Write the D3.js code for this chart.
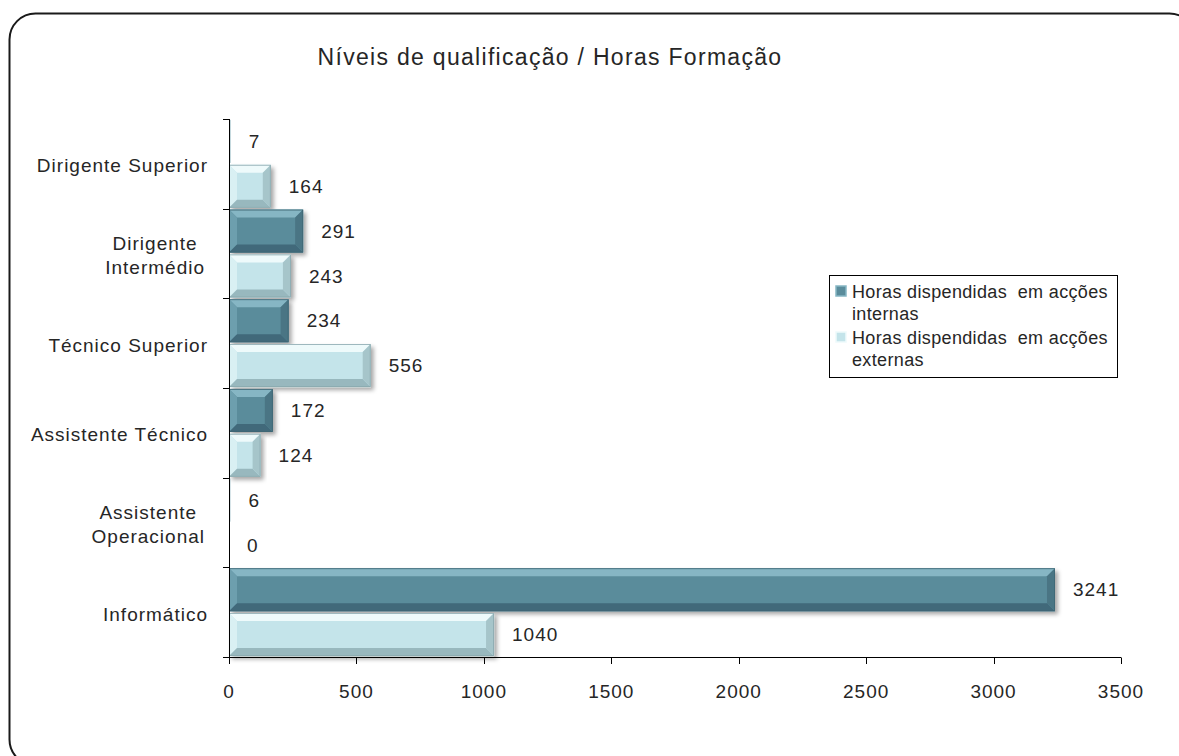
<!DOCTYPE html>
<html>
<head>
<meta charset="utf-8">
<script src="https://cdn.jsdelivr.net/npm/d3@7"></script>
<style>
  body { margin: 0; background: #fff; }
  svg text { font-family: "Liberation Sans", Arial, sans-serif; fill: #262626; }
</style>
</head>
<body>
<svg id="chart" width="1179" height="756"></svg>
<script>
// categories, top to bottom
var categories = ["Dirigente Superior", "Dirigente Intermédio", "Técnico Superior",
                  "Assistente Técnico", "Assistente Operacional", "Informático"];
// how each category label is broken into lines
var catLines = [["Dirigente Superior"], ["Dirigente", "Intermédio"], ["Técnico Superior"],
                ["Assistente Técnico"], ["Assistente", "Operacional"], ["Informático"]];
var internas = [7, 291, 234, 172, 6, 3241];
var externas = [164, 243, 556, 124, 0, 1040];
var legendLines = [["Horas dispendidas  em acções", "internas"], ["Horas dispendidas  em acções", "externas"]];
var xTicks = [0, 500, 1000, 1500, 2000, 2500, 3000, 3500];
var title = "Níveis de qualificação / Horas Formação";

var svg = d3.select("#chart");

// outer rounded frame (partly off the page, as in the original)
svg.append("rect")
    .attr("x", 9.5).attr("y", 13.5)
    .attr("width", 1186).attr("height", 752)
    .attr("rx", 26).attr("ry", 26)
    .attr("fill", "#fff").attr("stroke", "#1a1a1a").attr("stroke-width", 2);

var defs = svg.append("defs");
var f = defs.append("filter").attr("id", "shadow")
    .attr("x", "-10%").attr("y", "-20%").attr("width", "130%").attr("height", "160%");
f.append("feDropShadow").attr("dx", 3).attr("dy", 3).attr("stdDeviation", 2)
    .attr("flood-color", "#000").attr("flood-opacity", 0.35);

svg.append("text")
    .attr("x", 550).attr("y", 65)
    .attr("text-anchor", "middle")
    .style("font-size", "23px").style("letter-spacing", "1.3px")
    .text(title);

var x = d3.scaleLinear().domain([0, 3500]).range([229, 1121]);
var y = d3.scaleBand().domain(categories).range([119, 657]);
var sub = d3.scaleBand().domain([0, 1]).range([0, y.bandwidth()])
    .paddingInner(0.04).paddingOuter(0.02);

var palettes = [
  { base: "#5a8c9b", top: "#86b6c4", left: "#6d9fae", bottom: "#41697a", right: "#4a7584", edge: "#3f6674" },
  { base: "#c4e4ea", top: "#eefafb", left: "#d9f0f3", bottom: "#98b8be", right: "#a6c5ca", edge: "#8aa9ae" }
];

var rows = [];
categories.forEach(function (c, i) {
  rows.push({ cat: c, s: 0, v: internas[i] });
  rows.push({ cat: c, s: 1, v: externas[i] });
});

var bars = svg.append("g");
rows.forEach(function (d) {
  var x0 = x(0), w = x(d.v) - x(0);
  var y0 = y(d.cat) + sub(d.s), h = sub.bandwidth();
  var p = palettes[d.s];
  var g = bars.append("g");
  if (w > 3) {
    g.append("rect").attr("x", x0).attr("y", y0).attr("width", w).attr("height", h)
        .attr("fill", p.base).attr("filter", "url(#shadow)");
    var b = Math.min(8, w / 2, h / 2);
    var polys = [
      [[x0, y0], [x0 + w, y0], [x0 + w - b, y0 + b], [x0 + b, y0 + b], p.top],
      [[x0, y0], [x0 + b, y0 + b], [x0 + b, y0 + h - b], [x0, y0 + h], p.left],
      [[x0, y0 + h], [x0 + b, y0 + h - b], [x0 + w - b, y0 + h - b], [x0 + w, y0 + h], p.bottom],
      [[x0 + w, y0], [x0 + w, y0 + h], [x0 + w - b, y0 + h - b], [x0 + w - b, y0 + b], p.right]
    ];
    polys.forEach(function (q) {
      g.append("polygon")
          .attr("points", q.slice(0, 4).map(function (pt) { return pt.join(","); }).join(" "))
          .attr("fill", q[4]);
    });
    g.append("rect").attr("x", x0 + 0.5).attr("y", y0 + 0.5)
        .attr("width", Math.max(0, w - 1)).attr("height", h - 1)
        .attr("fill", "none").attr("stroke", p.edge).attr("stroke-width", 0.8);
  } else if (w > 0.5) {
    // very small values: a sliver hidden mostly behind the axis
    g.append("rect").attr("x", x0).attr("y", y0).attr("width", w).attr("height", h)
        .attr("fill", p.left).attr("opacity", 0.5);
  }
  svg.append("text")
      .attr("x", x(d.v) + 18)
      .attr("y", y0 + h / 2)
      .attr("dy", "0.35em")
      .style("font-size", "19px").style("letter-spacing", "1px")
      .text(d.v);
});

// y axis
var yAxis = svg.append("g");
yAxis.append("line").attr("x1", 229.5).attr("x2", 229.5).attr("y1", 119).attr("y2", 657)
    .attr("stroke", "#000");
var bounds = categories.map(function (c) { return y(c); }).concat([657]);
bounds.forEach(function (b) {
  yAxis.append("line").attr("x1", 223).attr("x2", 229.5)
      .attr("y1", Math.round(b) + 0.5).attr("y2", Math.round(b) + 0.5).attr("stroke", "#000");
});

// category labels: block right aligned, lines centred inside it
var lh = 24;
categories.forEach(function (c, i) {
  var lines = catLines[i];
  var t = svg.append("text").attr("text-anchor", "middle")
      .style("font-size", "19px").style("letter-spacing", "1px");
  var cy = y(c) + y.bandwidth() / 2 + 2 - (lines.length - 1) * lh / 2;
  var spans = lines.map(function (l, k) {
    return t.append("tspan").attr("y", cy + k * lh).attr("dy", "0.35em").text(l);
  });
  var maxW = d3.max(spans, function (s) { return s.node().getComputedTextLength(); });
  var right = lines.length > 1 ? 205 : 208;
  spans.forEach(function (s) { s.attr("x", right - maxW / 2); });
});

// x axis
var xAxis = svg.append("g");
xAxis.append("line").attr("x1", 229).attr("x2", 1121).attr("y1", 657.5).attr("y2", 657.5)
    .attr("stroke", "#000");
xTicks.forEach(function (t) {
  xAxis.append("line").attr("x1", Math.round(x(t)) + 0.5).attr("x2", Math.round(x(t)) + 0.5)
      .attr("y1", 657.5).attr("y2", 664).attr("stroke", "#000");
  xAxis.append("text").attr("x", x(t)).attr("y", 698)
      .attr("text-anchor", "middle")
      .style("font-size", "19px").style("letter-spacing", "1px").text(t);
});

// legend
var lg = svg.append("g");
lg.append("rect").attr("x", 829.5).attr("y", 275.5).attr("width", 288).attr("height", 102)
    .attr("fill", "#fff").attr("stroke", "#000");
legendLines.forEach(function (ls, i) {
  var by = 298 + i * 46;
  var p = palettes[i];
  lg.append("rect").attr("x", 836).attr("y", by - 12).attr("width", 10).attr("height", 10)
      .attr("fill", p.base).attr("stroke", p.top).attr("stroke-width", 1.5);
  var t = lg.append("text").attr("xml:space", "preserve")
      .style("font-size", "18px").style("letter-spacing", "0.35px");
  ls.forEach(function (l, k) {
    t.append("tspan").attr("x", 852).attr("y", by + k * 22).text(l);
  });
});
</script>
</body>
</html>
